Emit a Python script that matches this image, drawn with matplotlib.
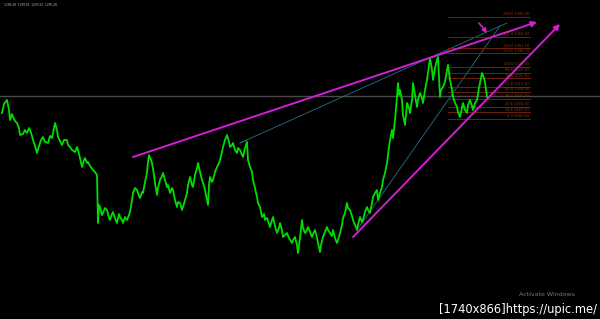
import matplotlib
matplotlib.use("Agg")
import matplotlib.pyplot as plt

# price chart (bar index, close)
bars = [2, 4, 7, 9, 10, 12, 13, 15, 17, 19, 20, 23, 25, 27, 29, 30, 32, 33, 35, 37,
        39, 41, 43, 45, 48, 50, 52, 54, 55, 57, 58, 60, 62, 64, 67, 68, 70, 72, 75, 77,
        78, 80, 82, 84, 85, 87, 88, 90, 93, 95, 97, 98, 99, 100, 102, 103, 105, 107, 109, 110,
        112, 113, 115, 117, 119, 120, 122, 123, 125, 127, 129, 130, 132, 133, 135, 137, 139, 140, 142, 143,
        145, 147, 148, 149, 151, 152, 154, 155, 157, 158, 160, 162, 163, 165, 167, 168, 170, 172, 173, 175,
        177, 178, 180, 182, 183, 185, 187, 188, 190, 192, 193, 195, 197, 198, 200, 202, 204, 205, 207, 208,
        209, 210, 212, 213, 215, 217, 219, 220, 222, 223, 225, 227, 229, 230, 232, 233, 235, 237, 238, 240,
        242, 243, 245, 247, 248, 250, 252, 253, 255, 257, 258, 260, 262, 264, 265, 267, 269, 270, 272, 273,
        275, 277, 279, 280, 282, 283, 285, 287, 289, 292, 293, 295, 297, 298, 300, 302, 303, 305, 307, 308,
        310, 312, 313, 315, 317, 318, 320, 321, 323, 325, 327, 328, 330, 332, 333, 335, 337, 338, 340, 342,
        343, 345, 347, 348, 350, 352, 353, 355, 357, 358, 360, 362, 363, 365, 367, 368, 370, 372, 373, 375,
        377, 378, 380, 382, 383, 385, 387, 389, 390, 392, 393, 395, 397, 398, 399, 400, 402, 403, 405, 406,
        407, 409, 410, 412, 413, 415, 417, 418, 420, 422, 423, 425, 427, 429, 430, 432, 433, 435, 437, 438,
        440, 441, 443, 445, 447, 448, 450, 452, 453, 455, 457, 458, 460, 462, 463, 465, 467, 468, 470, 472,
        473, 475, 477, 479, 480, 482, 484, 485, 487, 488]
closes = [1287, 1296, 1300, 1290, 1280, 1286, 1283, 1279, 1277, 1272, 1265, 1266, 1270, 1267, 1272, 1270, 1264, 1260, 1254, 1247,
          1254, 1260, 1263, 1258, 1257, 1264, 1262, 1272, 1277, 1270, 1263, 1259, 1255, 1260, 1260, 1255, 1253, 1250, 1248, 1253,
          1250, 1242, 1233, 1240, 1242, 1237, 1238, 1234, 1230, 1228, 1225, 1177, 1195, 1193, 1185, 1187, 1192, 1190, 1182, 1180,
          1186, 1188, 1182, 1177, 1186, 1183, 1180, 1177, 1183, 1180, 1185, 1188, 1200, 1207, 1212, 1210, 1204, 1202, 1208, 1207,
          1218, 1227, 1238, 1245, 1240, 1237, 1225, 1217, 1205, 1212, 1220, 1224, 1227, 1220, 1213, 1215, 1207, 1212, 1210, 1200,
          1193, 1198, 1197, 1190, 1193, 1200, 1207, 1215, 1223, 1215, 1213, 1225, 1232, 1237, 1228, 1220, 1214, 1210, 1200, 1195,
          1215, 1223, 1218, 1220, 1228, 1233, 1237, 1240, 1248, 1253, 1260, 1265, 1258, 1253, 1255, 1257, 1250, 1247, 1252, 1250,
          1245, 1243, 1252, 1258, 1240, 1233, 1228, 1220, 1212, 1203, 1197, 1193, 1183, 1186, 1180, 1182, 1176, 1173, 1180, 1183,
          1174, 1167, 1172, 1177, 1170, 1163, 1165, 1167, 1162, 1157, 1160, 1163, 1155, 1147, 1162, 1180, 1172, 1167, 1170, 1173,
          1168, 1163, 1166, 1170, 1162, 1157, 1148, 1155, 1163, 1168, 1173, 1170, 1167, 1164, 1170, 1162, 1157, 1160, 1167, 1175,
          1182, 1187, 1197, 1192, 1190, 1184, 1180, 1175, 1170, 1175, 1183, 1178, 1180, 1188, 1193, 1190, 1187, 1197, 1203, 1207,
          1210, 1200, 1207, 1213, 1220, 1227, 1237, 1253, 1260, 1270, 1262, 1280, 1303, 1317, 1305, 1310, 1300, 1285, 1275, 1285,
          1297, 1292, 1287, 1300, 1317, 1305, 1293, 1300, 1307, 1302, 1297, 1310, 1320, 1335, 1342, 1330, 1320, 1332, 1340, 1343,
          1303, 1310, 1313, 1318, 1330, 1335, 1320, 1310, 1303, 1297, 1293, 1288, 1283, 1292, 1297, 1290, 1287, 1295, 1300, 1294,
          1290, 1297, 1300, 1312, 1317, 1327, 1322, 1317, 1303, 1302]

bid_price = 1304

# fibonacci levels (label, price)
fib_labels = ["200.0", "161.8", "138.2", "123.6", "100.0", "88.6", "76.4",
              "61.8", "50.0", "38.2", "23.6", "14.6", "0.0"]
fib_prices = [1383.3, 1363.3, 1351.7, 1346.7, 1333.3, 1327.3, 1321.7,
              1313.3, 1308.0, 1301.3, 1293.3, 1287.7, 1281.0]
fib_start, fib_end = 448, 530

# trendlines: ((bar0, price0), (bar1, price1))
magenta_lines = [((133, 1243), (537, 1378)),
                 ((353, 1163), (560, 1376))]
teal_lines = [((240, 1257), (507, 1377)),
              ((357, 1170), (500, 1374)),
              ((240, 1257), (247, 1260))]
pointer = ((479, 1377), (487, 1367))

header = "1296.28  1299.93  1293.62  1295.28"

fig = plt.figure(figsize=(6, 3.19), dpi=100, facecolor="black")
ax = fig.add_axes([0, 0, 1, 1], facecolor="black")
ax.set_xlim(0, 600)
ax.set_ylim(1081, 1400)
ax.axis("off")

ax.axhline(bid_price, color="#4a4a4a", lw=1.0, zorder=1)

for (x0, y0), (x1, y1) in teal_lines:
    ax.plot([x0, x1], [y0, y1], color="#2a6f8a", lw=0.6, zorder=2)

for lab, p in zip(fib_labels, fib_prices):
    ax.plot([fib_start, fib_end], [p, p], color="#6e2008", lw=0.7, zorder=2)
    ax.text(fib_end - 1, p + 0.6, f"{lab} {p:.2f}", color="#8a3a18",
            fontsize=2.6, ha="right", va="bottom", zorder=3)

ax.plot(bars, closes, color="#00dd00", lw=1.3, zorder=4)

for (x0, y0), (x1, y1) in magenta_lines:
    ax.annotate("", xy=(x1, y1), xytext=(x0, y0),
                arrowprops=dict(arrowstyle="-|>", color="#d21fd2", lw=1.4,
                                mutation_scale=8, shrinkA=0, shrinkB=0),
                zorder=5)

ax.annotate("", xy=pointer[1], xytext=pointer[0],
            arrowprops=dict(arrowstyle="-|>", color="#d21fd2", lw=1.2,
                            mutation_scale=6, shrinkA=0, shrinkB=0), zorder=5)

ax.text(4, 1397, header, color="#bbbbbb", fontsize=2.1, ha="left", va="top")
ax.text(547, 1105, "Activate Windows", color="#777777", fontsize=4.5,
        ha="center", va="center")
ax.text(597, 1090, "[1740x866]https://upic.me/", color="white", fontsize=8.3,
        ha="right", va="center")

fig.savefig("out.png", dpi=100, facecolor="black")
